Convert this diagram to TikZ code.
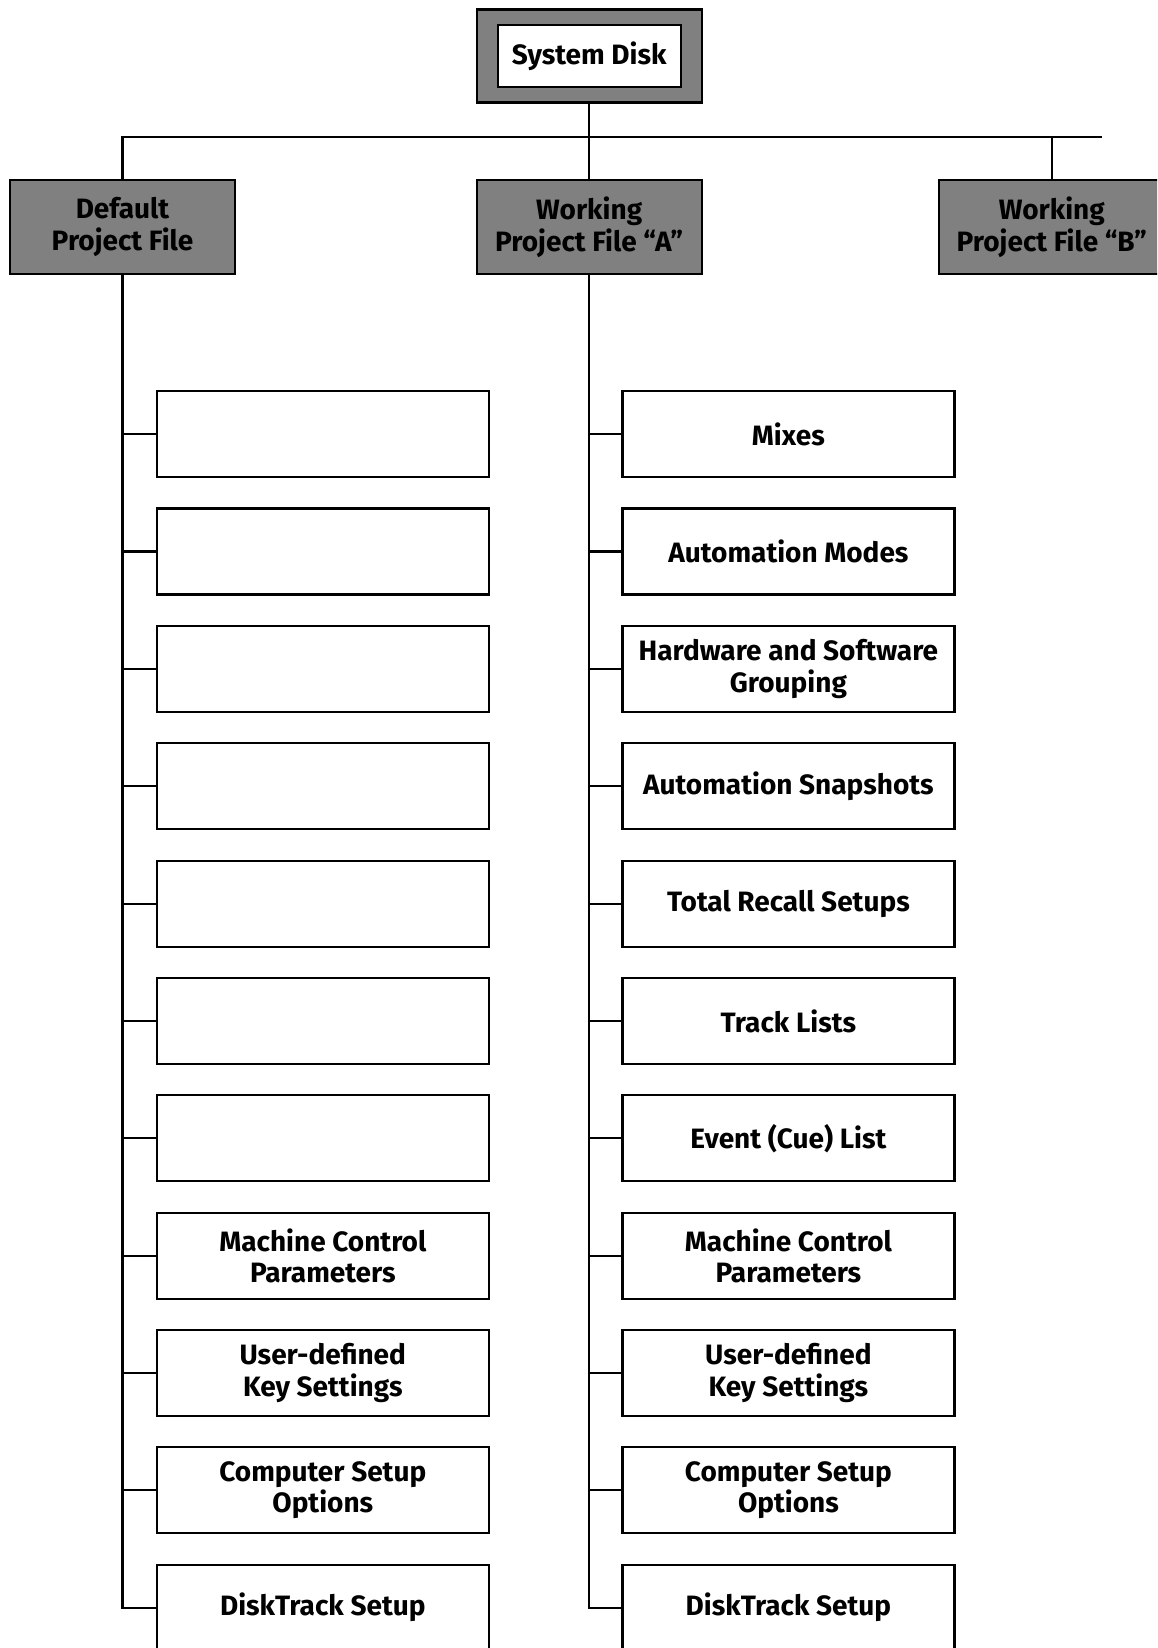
\documentclass[tikz,border=0pt]{standalone}
\usepackage{fontspec}
\setmainfont{Fira Sans}
\tikzset{
  x=1pt,y=-1pt,
  conn/.style={line width=2.2pt, line cap=rect},
  grayfill/.style={draw=black, line width=2.2pt, fill=boxgray},
  boxfont/.style={font=\bfseries\fontsize{28}{31.5}\selectfont},
  topbox/.style={grayfill, boxfont, minimum width=225pt, minimum height=94pt, inner sep=0pt, align=center},
  leafbox/.style={draw=black, line width=2.2pt, fill=white, boxfont, minimum width=332pt, minimum height=86pt, inner sep=0pt, align=center},
}
\definecolor{boxgray}{RGB}{128,128,128}
\begin{document}
\begin{tikzpicture}
\useasboundingbox (0,0) rectangle (1157,1648);
\clip (0,0) rectangle (1157,1648);
% top
\node[topbox, minimum height=93pt] (sys) at (589.2,56) {};
\node[draw=black, line width=2.2pt, fill=white, minimum width=183pt, minimum height=62pt, inner sep=0pt, boxfont] (sysin) at (589.2,56.2) {System Disk};
\node[topbox] (def) at (122.5,227) {Default\\Project File};
\node[topbox] (A) at (589.2,227) {Working\\Project File “A”};
\node[topbox] (B) at (1051.8,227) {Working\\Project File “B”};
\coordinate (busL) at (124,136.7);
\coordinate (busR) at (1101,136.7);
\draw[conn] (def.north) -- (def.north |- busL) -- (busR);
\draw[conn] (sys.south) -- (A.north);
\draw[conn] (B.north) -- (B.north |- busR);
% left column
\foreach \i/\t in {0/{},1/{},2/{},3/{},4/{},5/{},6/{},7/{Machine Control\\Parameters},8/{User-defined\\Key Settings},9/{Computer Setup\\Options},10/{DiskTrack Setup}}{
  \node[leafbox] (L\i) at (322.8,434.2+117.35*\i) {\t};
  \draw[conn] (def.south |- L\i.west) -- (L\i.west);
}
\draw[conn] (def.south) -- (def.south |- L10.west);
% right column
\foreach \i/\t in {0/{Mixes},1/{Automation Modes},2/{Hardware and Software\\Grouping},3/{Automation Snapshots},4/{Total Recall Setups},5/{Track Lists},6/{Event (Cue) List},7/{Machine Control\\Parameters},8/{User-defined\\Key Settings},9/{Computer Setup\\Options},10/{DiskTrack Setup}}{
  \node[leafbox] (R\i) at (788.4,434.2+117.35*\i) {\t};
  \draw[conn] (A.south |- R\i.west) -- (R\i.west);
}
\draw[conn] (A.south) -- (A.south |- R10.west);
\end{tikzpicture}
\end{document}
